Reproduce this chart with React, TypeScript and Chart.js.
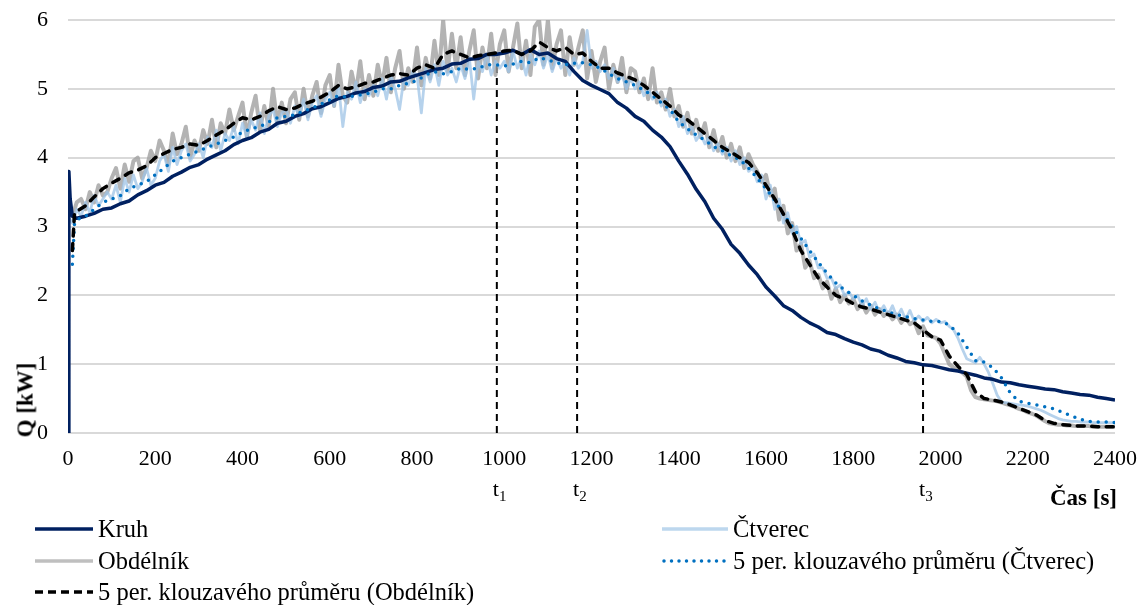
import React, { useEffect, useRef, useState } from 'react';
import { Chart, registerables } from 'chart.js';

Chart.register(...registerables);

const W = 1141;
const H = 605;
const FONT = '"Liberation Serif", "Times New Roman", serif';

// time helpers (category positions only)
const range = (a: number, b: number, s: number) => {
  const r: number[] = [];
  for (let v = a; v <= b + 1e-9; v += s) r.push(v);
  return r;
};

// ---------------- DATA ----------------
const xTickStep = 200;
const xMax = 2400;
const yMax = 6;

// Kruh (circle)
const kruhTimes = [0, 2, 5, 10, ...range(20, 2400, 20)];
const kruhValues = [
  0, 3.8, 3.4, 3.15,
  3.12, 3.15, 3.19, 3.25, 3.27, 3.33, 3.37, 3.46, 3.52, 3.6,
  3.64, 3.73, 3.79, 3.86, 3.9, 3.98, 4.04, 4.1, 4.19, 4.25,
  4.29, 4.37, 4.41, 4.5, 4.53, 4.6, 4.64, 4.71, 4.74, 4.8,
  4.86, 4.89, 4.94, 4.96, 5.02, 5.04, 5.1, 5.11, 5.16, 5.2,
  5.24, 5.28, 5.3, 5.36, 5.37, 5.43, 5.44, 5.5, 5.5, 5.52,
  5.56, 5.5, 5.57, 5.5, 5.52, 5.44, 5.4, 5.25, 5.12, 5.05,
  4.99, 4.93, 4.8, 4.72, 4.6, 4.53, 4.4, 4.3, 4.16, 3.95,
  3.76, 3.54, 3.36, 3.12, 2.96, 2.74, 2.61, 2.44, 2.3, 2.12,
  1.99, 1.85, 1.78, 1.68, 1.6, 1.54, 1.46, 1.43, 1.37, 1.32,
  1.28, 1.22, 1.19, 1.13, 1.09, 1.04, 1.02, 0.99, 0.98, 0.95,
  0.92, 0.9, 0.87, 0.84, 0.8, 0.78, 0.74, 0.73, 0.7, 0.68,
  0.66, 0.64, 0.63, 0.6, 0.58, 0.56, 0.55, 0.52, 0.5, 0.48,
];

// Čtverec (square) raw, every 10 s
const ctverecTimes = range(0, 2400, 10);
const ctverecValues = [
  3.15, 3.05, 3.25, 3.15, 3.35, 3.2, 3.45, 3.3, 3.4, 3.5,
  3.4, 3.6, 3.35, 3.7, 3.5, 3.75, 3.55, 3.65, 3.85, 3.6,
  3.7, 3.95, 4.05, 3.8, 4.15, 3.9, 4.1, 4.2, 3.95, 4.05,
  4.2, 4.0, 4.3, 4.15, 4.4, 4.1, 4.35, 4.25, 4.45, 4.2,
  4.5, 4.3, 4.55, 4.4, 4.65, 4.35, 4.6, 4.7, 4.45, 4.65,
  4.7, 4.5, 4.75, 4.6, 4.85, 4.55, 4.8, 4.9, 4.6, 4.85,
  4.95, 4.75, 5.05, 4.45, 4.95, 4.85, 5.1, 4.8, 5.0, 4.9,
  5.05, 4.9, 5.15, 4.85, 5.2, 5.0, 4.7, 5.15, 5.05, 5.25,
  5.2, 4.65, 5.3, 5.1, 5.35, 5.05, 5.4, 5.2, 5.3, 5.1,
  5.35, 5.15, 5.45, 4.85, 5.4, 5.25, 5.5, 5.2, 5.4, 5.3,
  5.4, 5.25, 5.55, 5.3, 5.45, 5.2, 5.5, 5.35, 5.55, 5.3,
  5.5, 5.25, 5.45, 5.3, 5.4, 5.2, 5.45, 5.3, 5.4, 5.85,
  5.3, 5.4, 5.25, 5.35, 5.15, 5.3, 5.1, 5.2, 5.0, 5.15,
  5.0, 5.1, 4.9, 5.0, 4.85, 4.95, 4.75, 4.85, 4.6, 4.7,
  4.45, 4.6, 4.35, 4.45, 4.25, 4.35, 4.2, 4.3, 4.1, 4.2,
  4.05, 4.15, 3.95, 4.1, 3.9, 4.0, 3.8, 3.85, 3.65, 3.75,
  3.4, 3.6, 3.25, 3.4, 3.05, 3.2, 2.9, 3.0, 2.75, 2.8,
  2.55, 2.6, 2.4, 2.4, 2.25, 2.25, 2.1, 2.15, 2.0, 2.05,
  1.95, 2.0, 1.85, 1.95, 1.8, 1.9, 1.75, 1.85, 1.72, 1.85,
  1.68, 1.8, 1.65, 1.78, 1.62, 1.7, 1.62, 1.68, 1.6, 1.65,
  1.6, 1.62, 1.55, 1.5, 1.38, 1.22, 1.08, 1.05, 1.02, 1.1,
  1.0, 0.88, 0.72, 0.55, 0.45, 0.44, 0.43, 0.42, 0.41, 0.4,
  0.39, 0.37, 0.35, 0.33, 0.3, 0.27, 0.24, 0.21, 0.19, 0.18,
  0.17, 0.17, 0.16, 0.16, 0.16, 0.15, 0.15, 0.15, 0.15, 0.15,
  0.15,
];

// Obdélník (rectangle) raw, every 10 s
const obdelnikTimes = range(0, 2400, 10);
const obdelnikValues = [
  3.3, 3.15, 3.35, 3.4, 3.25, 3.5, 3.35, 3.6, 3.45, 3.5,
  3.7, 3.85, 3.55, 3.9, 3.65, 3.95, 4.0, 3.7, 3.85, 4.1,
  3.95, 4.25, 4.1, 3.9, 4.35, 4.05, 4.2, 4.45, 4.0, 4.25,
  4.1, 4.4, 4.2, 4.55, 4.15, 4.5, 4.35, 4.7, 4.4, 4.6,
  4.8, 4.3, 4.65, 4.9, 4.4, 4.75, 4.45, 5.0, 4.5, 4.8,
  4.5, 4.85, 4.95, 4.55, 5.0, 4.6, 4.9, 5.1, 4.65, 5.05,
  5.2, 4.75, 5.35, 4.9, 4.8, 5.25, 4.95, 5.4, 4.85, 5.2,
  4.9, 5.35, 5.05, 5.45, 4.95, 5.3, 5.55, 5.0, 5.3, 5.1,
  5.6, 5.05, 5.45, 5.15, 5.7, 5.2, 6.0, 5.25, 5.8, 5.3,
  5.75, 5.2, 5.55, 5.85, 5.15, 5.6, 5.3, 5.8, 5.2, 5.65,
  5.85, 5.25, 5.6, 5.95, 5.3, 5.7, 5.2, 5.9, 6.0, 5.35,
  6.0, 5.3, 5.65, 5.85, 5.2, 5.75, 5.35, 5.6, 5.85, 5.15,
  5.55, 5.1, 5.4, 5.6, 5.0, 5.35, 5.1, 5.45, 4.95, 5.3,
  5.25, 4.95, 5.15, 4.85, 5.3, 4.8, 4.95, 4.7, 5.0, 4.6,
  4.75, 4.45, 4.65, 4.35, 4.55, 4.3, 4.5, 4.15, 4.4, 4.1,
  4.3, 4.0, 4.2, 3.95, 4.15, 3.85, 4.05, 3.9, 3.8, 3.65,
  3.75, 3.45, 3.55, 3.1, 3.3, 2.9, 3.05, 2.65, 2.75, 2.4,
  2.5, 2.25, 2.3, 2.1, 2.2, 1.95, 2.1, 1.9, 2.0, 1.88,
  1.95, 1.8, 1.88, 1.75, 1.85, 1.72, 1.8, 1.7, 1.75, 1.65,
  1.72, 1.6, 1.68, 1.58, 1.62, 1.45, 1.55, 1.42, 1.4, 1.38,
  1.3, 1.15, 1.0, 0.95, 0.92, 0.88, 0.82, 0.62, 0.52, 0.5,
  0.49, 0.48, 0.47, 0.46, 0.44, 0.42, 0.4, 0.38, 0.35, 0.33,
  0.3, 0.28, 0.25, 0.21, 0.17, 0.14, 0.13, 0.12, 0.12, 0.11,
  0.11, 0.1, 0.1, 0.1, 0.1, 0.09, 0.09, 0.09, 0.09, 0.09,
  0.09,
];

// 5-period moving average (Čtverec)
const maCtverecTimes = [10, 15, ...range(20, 2400, 20)];
const maCtverecValues = [
  2.45, 3.05,
  3.1, 3.15, 3.25, 3.35, 3.4, 3.45, 3.55, 3.6, 3.65, 3.75,
  3.85, 3.95, 4.0, 4.05, 4.1, 4.15, 4.2, 4.25, 4.3, 4.37,
  4.42, 4.45, 4.52, 4.58, 4.6, 4.62, 4.68, 4.72, 4.78, 4.84,
  4.9, 4.88, 4.9, 4.92, 4.95, 5.0, 5.0, 5.05, 5.08, 5.12,
  5.2, 5.25, 5.22, 5.25, 5.3, 5.28, 5.3, 5.35, 5.35, 5.33,
  5.36, 5.4, 5.38, 5.45, 5.42, 5.38, 5.35, 5.37, 5.38, 5.35,
  5.3, 5.22, 5.15, 5.1, 5.05, 4.98, 4.9, 4.8, 4.7, 4.52,
  4.42, 4.33, 4.25, 4.16, 4.1, 4.03, 3.97, 3.85, 3.7, 3.55,
  3.38, 3.18, 3.0, 2.83, 2.65, 2.48, 2.32, 2.18, 2.08, 2.0,
  1.92, 1.86, 1.8, 1.76, 1.72, 1.69, 1.66, 1.64, 1.62, 1.62,
  1.57, 1.45, 1.25, 1.05, 1.03, 0.95, 0.8, 0.58, 0.46, 0.43,
  0.41, 0.38, 0.35, 0.3, 0.25, 0.2, 0.17, 0.16, 0.16, 0.15,
];

// 5-period moving average (Obdélník)
const maObdelnikTimes = [10, 15, ...range(20, 2400, 20)];
const maObdelnikValues = [
  2.65, 3.2,
  3.22, 3.3, 3.43, 3.55, 3.63, 3.7, 3.78, 3.82, 3.88, 4.0,
  4.06, 4.12, 4.15, 4.2, 4.18, 4.25, 4.33, 4.4, 4.5, 4.58,
  4.55, 4.6, 4.68, 4.74, 4.7, 4.72, 4.78, 4.82, 4.88, 4.95,
  5.05, 5.0, 5.03, 5.08, 5.1, 5.15, 5.2, 5.22, 5.2, 5.3,
  5.35, 5.3, 5.5, 5.55, 5.5, 5.45, 5.48, 5.5, 5.52, 5.55,
  5.56, 5.5, 5.55, 5.68, 5.6, 5.55, 5.6, 5.5, 5.52, 5.4,
  5.3, 5.3, 5.23, 5.18, 5.13, 5.05, 4.95, 4.85, 4.75, 4.62,
  4.55, 4.45, 4.35, 4.25, 4.15, 4.08, 4.0, 3.93, 3.78, 3.6,
  3.4, 3.18, 2.95, 2.65, 2.45, 2.25, 2.12, 2.0, 1.95, 1.88,
  1.83, 1.8, 1.76, 1.72, 1.68, 1.64, 1.6, 1.5, 1.4, 1.35,
  1.12, 0.97, 0.85, 0.6, 0.5, 0.48, 0.45, 0.41, 0.36, 0.31,
  0.26, 0.18, 0.14, 0.12, 0.11, 0.1, 0.1, 0.09, 0.09, 0.09,
];

// Marked times t1, t2, t3
const markerTimes = [983, 1167, 1960];
const markerTops = [5.35, 4.98, 1.55];
const markerLabels = ['1', '2', '3'];

// Labels
const yTitle = 'Q [kW]';
const xTitle = 'Čas [s]';
const seriesLabels = [
  'Kruh',
  'Čtverec',
  'Obdélník',
  '5 per. klouzavého průměru (Čtverec)',
  '5 per. klouzavého průměru (Obdélník)',
];

// ---------------- STYLE ----------------
const C_KRUH = '#002060';
const C_CTV = 'rgba(157,195,230,0.75)';
const C_OBD = 'rgba(160,160,160,0.8)';
const C_MACTV = '#0070C0';
const C_MAOBD = '#000000';

const mk = (times: number[], vals: number[]) => times.map((t, i) => ({ x: t, y: vals[i] }));

export default function App() {
  const canvasRef = useRef<HTMLCanvasElement | null>(null);
  const [markerX, setMarkerX] = useState<number[]>([]);

  useEffect(() => {
    const canvas = canvasRef.current;
    if (!canvas) return;
    const datasets: any[] = [
      {
        label: seriesLabels[4],
        data: mk(maObdelnikTimes, maObdelnikValues),
        borderColor: C_MAOBD,
        borderWidth: 3.5,
        borderDash: [7, 7.5],
        borderCapStyle: 'round',
        order: 0,
      },
      {
        label: seriesLabels[3],
        data: mk(maCtverecTimes, maCtverecValues),
        borderColor: C_MACTV,
        borderWidth: 3.5,
        borderDash: [0, 8],
        borderCapStyle: 'round',
        order: 1,
      },
      {
        label: seriesLabels[0],
        data: mk(kruhTimes, kruhValues),
        borderColor: C_KRUH,
        borderWidth: 3.5,
        order: 2,
      },
      {
        label: seriesLabels[1],
        data: mk(ctverecTimes, ctverecValues),
        borderColor: C_CTV,
        borderWidth: 2.8,
        order: 3,
      },
      {
        label: seriesLabels[2],
        data: mk(obdelnikTimes, obdelnikValues),
        borderColor: C_OBD,
        borderWidth: 4,
        order: 4,
      },
      ...markerTimes.map((t, i) => ({
        label: 't' + markerLabels[i],
        data: [
          { x: t, y: 0 },
          { x: t, y: markerTops[i] },
        ],
        borderColor: '#000',
        borderWidth: 2,
        borderDash: [7, 5],
        order: 5,
      })),
    ];
    datasets.forEach((d) => {
      d.pointRadius = 0;
      d.pointHoverRadius = 0;
      d.tension = 0;
      d.fill = false;
      d.borderJoinStyle = 'round';
    });

    const chart = new Chart(canvas, {
      type: 'line',
      data: { datasets },
      options: {
        animation: false,
        responsive: false,
        maintainAspectRatio: false,
        events: [],
        layout: { padding: { top: 20, right: 26, left: 0, bottom: 0 } },
        plugins: { legend: { display: false }, tooltip: { enabled: false } },
        scales: {
          x: {
            type: 'linear',
            min: 0,
            max: xMax,
            afterFit: (s: any) => {
              s.height = H - 433;
              s.paddingLeft = 0;
              s.paddingRight = 0;
            },
            ticks: {
              stepSize: xTickStep,
              color: '#000',
              padding: 13,
              maxRotation: 0,
              autoSkip: false,
              font: { family: FONT, size: 22 },
              callback: (v: any) => String(v),
            },
            grid: { display: false, drawTicks: false },
            border: { display: false },
          },
          y: {
            type: 'linear',
            min: 0,
            max: yMax,
            afterFit: (s: any) => {
              s.width = 68;
              s.paddingTop = 0;
              s.paddingBottom = 0;
            },
            ticks: {
              stepSize: 1,
              color: '#000',
              padding: 20,
              font: { family: FONT, size: 22 },
              callback: (v: any) => String(v),
            },
            grid: { color: '#D9D9D9', lineWidth: 2, drawTicks: false },
            border: { display: false },
          },
        },
      },
    } as any);
    const xs = chart.scales.x;
    setMarkerX(markerTimes.map((t) => xs.getPixelForValue(t)));
    return () => chart.destroy();
  }, []);

  const legendRows = [
    { label: seriesLabels[0], x: 35, y: 529, w: 58, color: C_KRUH, dash: '', cap: 'butt' },
    { label: seriesLabels[2], x: 35, y: 561, w: 58, color: '#BFBFBF', dash: '', cap: 'butt' },
    { label: seriesLabels[4], x: 35, y: 592, w: 58, color: C_MAOBD, dash: '8 5', cap: 'butt' },
    { label: seriesLabels[1], x: 662, y: 529, w: 66, color: '#BDD7EE', dash: '', cap: 'butt' },
    { label: seriesLabels[3], x: 662, y: 561, w: 66, color: C_MACTV, dash: '0 7.5', cap: 'round' },
  ];

  return (
    <div
      style={{
        position: 'fixed',
        left: 0,
        top: 0,
        width: W,
        height: H,
        background: '#fff',
        overflow: 'hidden',
        fontFamily: FONT,
        color: '#000',
      }}
    >
      <canvas ref={canvasRef} width={W} height={H} style={{ position: 'absolute', left: 0, top: 0, width: W, height: H }} />
      <div
        style={{
          position: 'absolute',
          left: 25,
          top: 400,
          transform: 'translate(-50%, -50%) rotate(-90deg)',
          fontWeight: 'bold',
          fontSize: 23,
          lineHeight: 1,
          whiteSpace: 'nowrap',
        }}
      >
        {yTitle}
      </div>
      <div
        style={{
          position: 'absolute',
          right: 24,
          top: 497 - 11.5,
          fontWeight: 'bold',
          fontSize: 23,
          lineHeight: 1,
          whiteSpace: 'nowrap',
        }}
      >
        {xTitle}
      </div>
      {markerX.map((x, i) => (
        <div
          key={i}
          style={{ position: 'absolute', left: x - 4, top: 478, fontSize: 22, lineHeight: 1, whiteSpace: 'nowrap' }}
        >
          t<span style={{ fontSize: 15, position: 'relative', top: 5 }}>{markerLabels[i]}</span>
        </div>
      ))}
      {legendRows.map((r, i) => (
        <div key={i} style={{ position: 'absolute', left: r.x, top: r.y - 12, height: 24, display: 'flex', alignItems: 'center' }}>
          <svg width={r.w + 4} height={10} style={{ display: 'block' }}>
            <line
              x1={r.cap === 'round' ? 2 : 0}
              y1={5}
              x2={r.cap === 'round' ? r.w + 2 : r.w}
              y2={5}
              stroke={r.color}
              strokeWidth={3.5}
              strokeDasharray={r.dash || undefined}
              strokeLinecap={r.cap as any}
            />
          </svg>
          <span style={{ fontSize: 24.5, lineHeight: 1, marginLeft: 1, whiteSpace: 'nowrap' }}>{r.label}</span>
        </div>
      ))}
    </div>
  );
}
